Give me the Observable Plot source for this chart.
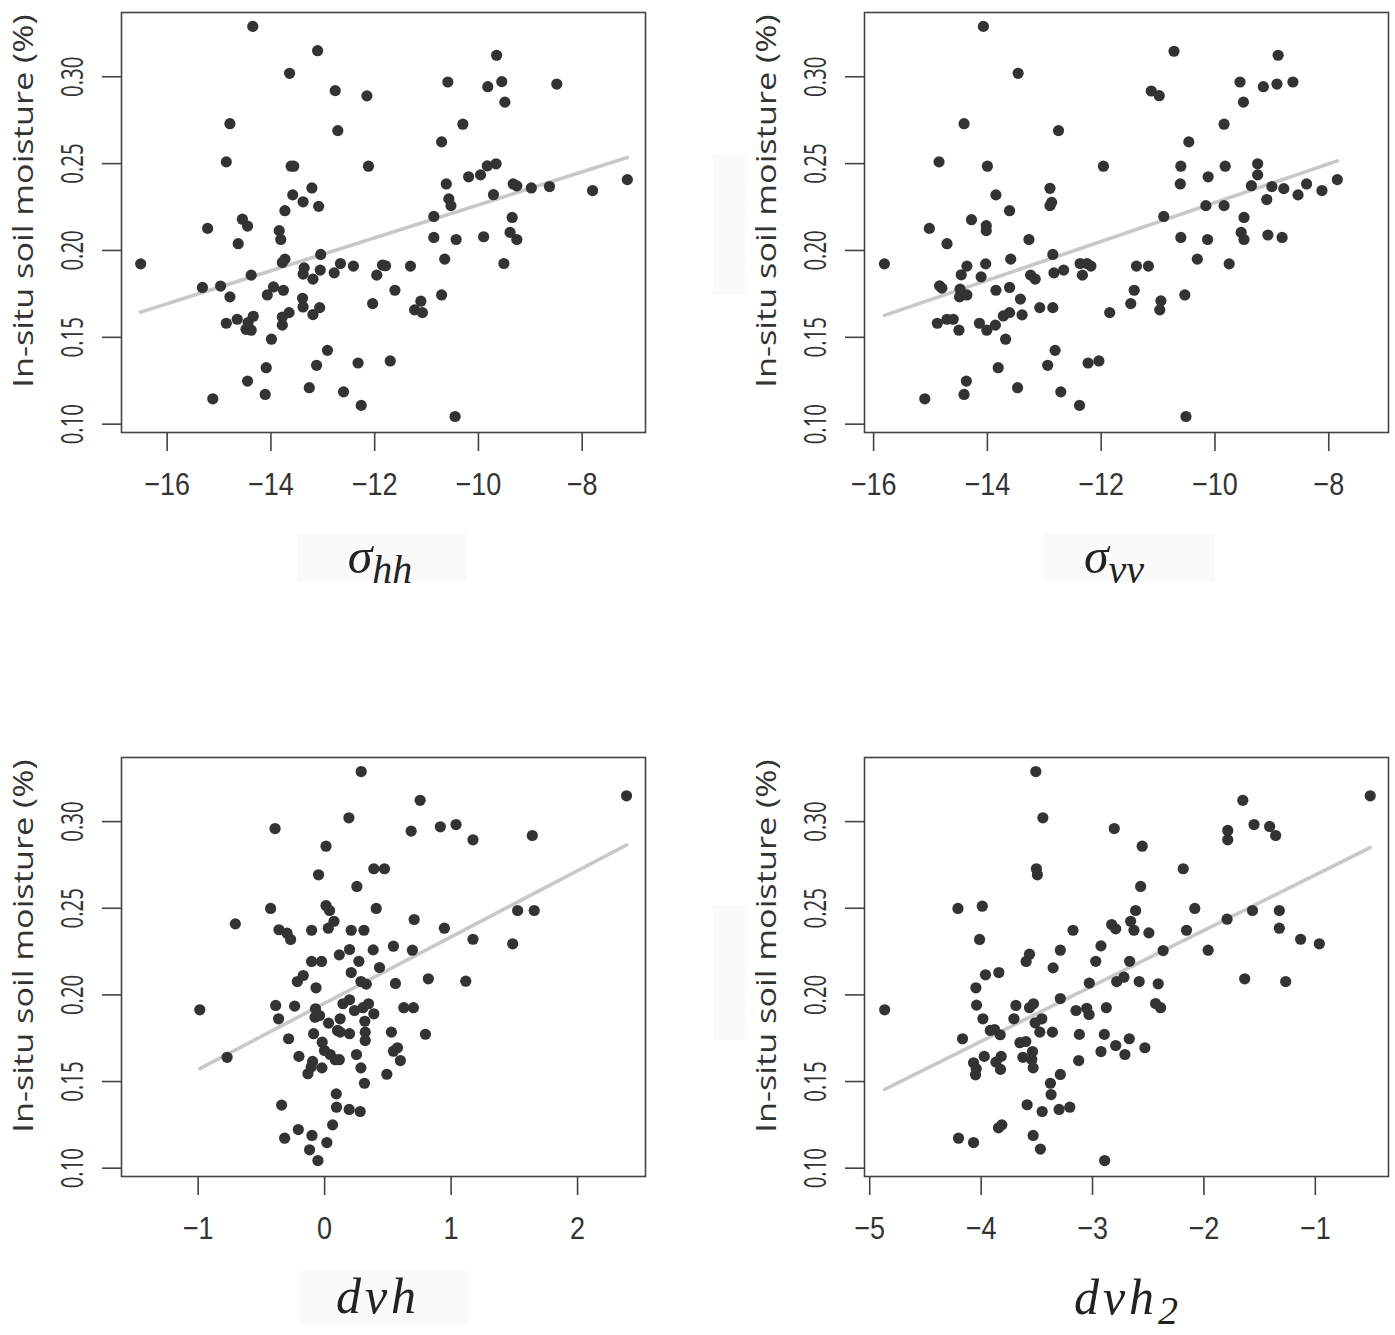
<!DOCTYPE html>
<html>
<head>
<meta charset="utf-8">
<script src="https://cdn.jsdelivr.net/npm/d3@7"></script>
<script src="https://cdn.jsdelivr.net/npm/@observablehq/plot@0.6"></script>
<style>
  body { margin: 0; background: #fff; }
  #wrap { position: relative; width: 1395px; height: 1335px; overflow: hidden; background: #fff; }
  .panel { position: absolute; }
  .ylab { position: absolute; font-family: "Open Sans", sans-serif; font-size: 27px; color: #333;
          white-space: nowrap; transform: translate(-50%, -50%) rotate(-90deg) scaleX(1.27); }
  .xlab { position: absolute; font-family: "Liberation Serif", serif; font-style: italic; font-size: 50px;
          line-height: 1.3; color: #222; white-space: nowrap; transform: translate(-50%, -50%); }
  .xlab sub { font-size: 0.8em; vertical-align: -0.26em; line-height: 0; }
  .xlab.wide { letter-spacing: 0.08em; }
  .tint { position: absolute; background: #fafafa; }
</style>
</head>
<body>
<div id="wrap"></div>
<script>
// ---------- data ----------
const yTicks = [0.10, 0.15, 0.20, 0.25, 0.30];
const hhTicks = [-16, -14, -12, -10, -8];
const vvTicks = [-16, -14, -12, -10, -8];
const dvhTicks = [-1, 0, 1, 2];
const dvh2Ticks = [-5, -4, -3, -2, -1];
const yLabel = "In-situ soil moisture (%)";

// [x, soil moisture]
const sigmaHH = [
  [-14.35,0.329],[-13.10,0.315],[-13.64,0.302],[-12.76,0.292],[-12.15,0.289],[-14.79,0.273],[-12.71,0.269],
  [-14.86,0.251],[-13.61,0.2485],[-13.56,0.2485],[-12.12,0.2485],[-13.21,0.236],[-13.58,0.232],[-13.38,0.228],
  [-13.08,0.2254],[-13.73,0.2229],[-14.55,0.218],[-14.45,0.214],[-15.22,0.2127],[-13.84,0.2114],[-13.81,0.2063],
  [-14.63,0.2039],[-16.51,0.1923],[-13.73,0.195],[-13.78,0.1931],[-13.04,0.1977],[-13.36,0.190],[-13.38,0.1864],
  [-13.19,0.1835],[-13.05,0.1887],[-12.78,0.1871],[-12.66,0.1925],[-12.41,0.191],[-11.85,0.1916],[-11.79,0.1912],
  [-11.96,0.1858],[-14.38,0.1858],[-15.32,0.1787],[-14.97,0.1795],[-14.79,0.1733],[-13.95,0.179],[-14.07,0.1744],
  [-13.76,0.1771],[-13.39,0.1725],[-13.38,0.1675],[-13.06,0.1671],[-13.19,0.1631],[-13.65,0.1642],[-13.78,0.1617],
  [-13.78,0.157],[-12.04,0.1694],[-14.86,0.1581],[-14.65,0.1604],[-14.34,0.1621],[-14.48,0.1546],[-14.38,0.1541],
  [-14.44,0.1585],[-13.99,0.1489],[-12.91,0.1425],[-13.12,0.1339],[-12.32,0.1352],[-14.09,0.1325],[-14.45,0.1248],
  [-13.26,0.121],[-12.60,0.1186],[-15.12,0.1146],[-14.11,0.1171],[-12.26,0.1108],
  [-9.65,0.3124],[-10.59,0.297],[-9.82,0.2943],[-9.55,0.2972],[-8.49,0.2958],[-9.49,0.2854],[-10.30,0.2727],
  [-10.71,0.2625],[-10.19,0.2424],[-9.96,0.2435],[-9.83,0.2487],[-9.66,0.2499],[-10.62,0.2383],[-10.57,0.2297],
  [-10.53,0.2258],[-9.71,0.2321],[-9.33,0.2383],[-9.26,0.2372],[-8.98,0.236],[-8.63,0.2368],[-7.80,0.2345],
  [-7.13,0.2408],[-10.86,0.2196],[-9.35,0.219],[-10.86,0.2075],[-10.43,0.2063],[-9.90,0.2079],[-9.39,0.2104],
  [-9.26,0.2063],[-10.65,0.195],[-9.51,0.1925],[-11.31,0.191],[-11.61,0.1771],[-10.71,0.1744],[-11.11,0.1708],
  [-11.23,0.1658],[-11.08,0.1642],[-11.70,0.1364],[-10.45,0.1044]
];

const sigmaVV = [
  [-14.07,0.329],[-13.46,0.302],[-14.41,0.273],[-12.75,0.269],[-14.85,0.251],[-14.00,0.2485],[-11.96,0.2485],
  [-13.85,0.232],[-12.90,0.2358],[-12.87,0.2277],[-12.90,0.2258],[-13.61,0.2229],[-14.28,0.2177],[-15.02,0.2127],
  [-14.02,0.2143],[-14.02,0.2114],[-14.71,0.2039],[-13.27,0.2063],[-15.81,0.1923],[-13.59,0.195],[-12.85,0.1977],
  [-14.36,0.191],[-14.46,0.186],[-14.03,0.1923],[-14.11,0.1848],[-13.24,0.1858],[-13.16,0.1835],[-12.83,0.1871],
  [-12.66,0.1887],[-12.37,0.1925],[-12.25,0.1925],[-12.18,0.191],[-12.33,0.1858],[-14.84,0.1796],[-14.80,0.1783],
  [-14.48,0.1777],[-14.49,0.1733],[-14.36,0.1744],[-13.85,0.1771],[-13.61,0.1787],[-13.42,0.172],[-13.08,0.1671],
  [-12.85,0.1671],[-11.85,0.1642],[-14.88,0.1581],[-14.71,0.1604],[-14.60,0.1604],[-14.50,0.1541],[-14.14,0.1581],
  [-14.01,0.1541],[-13.86,0.157],[-13.72,0.1623],[-13.61,0.1642],[-13.39,0.1629],[-13.68,0.1489],[-12.81,0.1425],
  [-12.94,0.1339],[-13.81,0.1325],[-12.23,0.1352],[-12.04,0.1364],[-14.37,0.1248],[-14.41,0.1171],[-15.10,0.1146],
  [-13.47,0.121],[-12.71,0.1186],[-12.38,0.1108],
  [-10.72,0.3147],[-11.12,0.2918],[-10.98,0.2891],[-8.89,0.3124],[-9.56,0.297],[-9.15,0.2943],[-8.91,0.2958],
  [-8.63,0.297],[-9.50,0.2854],[-9.84,0.2727],[-10.46,0.2625],[-10.60,0.2485],[-9.82,0.2485],[-9.25,0.2499],
  [-9.25,0.2435],[-10.12,0.2424],[-10.61,0.2383],[-9.36,0.2373],[-9.00,0.2368],[-8.79,0.2356],[-8.39,0.2383],
  [-8.54,0.232],[-8.12,0.2345],[-7.85,0.2408],[-9.09,0.2293],[-10.16,0.2258],[-9.84,0.2258],[-10.90,0.2196],
  [-9.49,0.219],[-10.60,0.2075],[-10.13,0.2063],[-9.54,0.2104],[-9.49,0.2063],[-9.07,0.2089],[-8.82,0.2075],
  [-10.31,0.195],[-9.75,0.1923],[-11.38,0.191],[-11.17,0.191],[-11.42,0.1771],[-11.48,0.1694],[-10.95,0.171],
  [-10.97,0.1658],[-10.53,0.1744],[-10.51,0.1044]
];

const dvh = [
  [0.289,0.3289],[0.192,0.3022],[-0.392,0.296],[0.011,0.2858],[0.389,0.2728],[0.473,0.2728],[-0.048,0.2693],
  [0.255,0.2626],[-0.427,0.2499],[-0.706,0.241],[0.011,0.2516],[0.039,0.2487],[0.408,0.2499],[0.074,0.2425],
  [0.029,0.2385],[-0.361,0.2376],[-0.297,0.2356],[-0.269,0.232],[-0.103,0.2373],[0.210,0.2373],[0.311,0.2373],
  [0.544,0.2281],[0.197,0.2262],[0.116,0.2231],[0.384,0.226],[0.271,0.2194],[-0.103,0.2193],[-0.024,0.2193],
  [0.210,0.2129],[0.434,0.2158],[-0.169,0.2112],[-0.216,0.2077],[-0.068,0.2041],[0.287,0.2077],[0.329,0.2062],
  [-0.987,0.1914],[-0.387,0.1939],[-0.237,0.1935],[-0.072,0.192],[0.145,0.1949],[0.197,0.1972],[0.236,0.191],
  [0.303,0.1926],[0.347,0.1949],[0.389,0.1891],[-0.364,0.1862],[-0.076,0.1871],[-0.040,0.1881],[0.031,0.1837],
  [0.123,0.1862],[0.318,0.1848],[-0.087,0.1776],[0.102,0.1795],[0.123,0.1785],[0.197,0.1776],[0.321,0.1785],
  [0.321,0.1737],[-0.285,0.1747],[-0.019,0.1727],[-0.001,0.1679],[0.044,0.1656],[0.084,0.1626],[0.116,0.1626],
  [-0.203,0.1645],[-0.095,0.1616],[-0.106,0.1583],[-0.132,0.1545],[-0.021,0.1579],[0.252,0.1656],[0.287,0.1579],
  [0.315,0.149],[-0.771,0.164],[0.092,0.1429],[0.094,0.1352],[0.194,0.1339],[0.281,0.1327],[-0.340,0.1364],
  [0.063,0.125],[-0.208,0.1223],[-0.316,0.1173],[-0.100,0.1189],[0.018,0.1148],[-0.119,0.1106],[-0.053,0.1044],
  [0.755,0.3123],[0.684,0.2945],[0.915,0.297],[1.039,0.2983],[1.173,0.2895],[1.642,0.292],[2.387,0.3149],
  [1.526,0.2487],[1.657,0.2487],[0.708,0.2435],[0.947,0.2385],[1.173,0.2321],[1.487,0.2295],[0.694,0.2258],
  [0.560,0.2066],[0.820,0.2093],[1.116,0.2079],[0.626,0.1926],[0.702,0.1926],[0.528,0.1785],[0.797,0.1773],
  [0.576,0.1695],[0.544,0.1675],[0.599,0.1621],[0.492,0.1542]
];

const dvh2 = [
  [-3.509,0.3289],[-3.446,0.3022],[-2.805,0.296],[-3.504,0.2728],[-3.495,0.2693],[-4.208,0.2499],[-3.990,0.2512],
  [-4.014,0.232],[-3.175,0.2373],[-2.828,0.2406],[-2.792,0.2381],[-3.566,0.2235],[-3.596,0.2193],[-3.289,0.2258],
  [-2.924,0.2283],[-3.354,0.2156],[-2.971,0.2194],[-3.961,0.2116],[-3.841,0.2129],[-4.047,0.2041],[-3.029,0.2068],
  [-2.783,0.2077],[-4.866,0.1914],[-4.041,0.1941],[-3.688,0.1939],[-3.566,0.1926],[-3.530,0.1949],[-3.706,0.1862],
  [-3.289,0.1979],[-3.148,0.191],[-3.052,0.1923],[-3.031,0.1887],[-2.876,0.1926],[-3.984,0.1862],[-3.515,0.1839],
  [-3.455,0.1862],[-3.918,0.1795],[-3.880,0.18],[-3.829,0.177],[-3.473,0.1785],[-3.360,0.1785],[-3.118,0.1772],
  [-2.894,0.1772],[-4.167,0.1747],[-3.652,0.1724],[-3.599,0.1731],[-3.539,0.1673],[-3.625,0.164],[-3.545,0.1627],
  [-3.533,0.1579],[-2.792,0.1708],[-2.924,0.1673],[-3.124,0.1621],[-3.972,0.1645],[-4.068,0.1608],[-4.044,0.1574],
  [-4.050,0.1539],[-3.867,0.1612],[-3.820,0.1645],[-3.826,0.157],[-3.289,0.1541],[-3.378,0.149],[-3.372,0.1425],
  [-3.587,0.1366],[-3.452,0.1327],[-3.300,0.1339],[-3.204,0.1352],[-3.844,0.1233],[-3.814,0.125],[-4.203,0.1173],
  [-4.068,0.1148],[-3.533,0.1189],[-3.468,0.111],[-2.891,0.1044],
  [-2.554,0.2858],[-2.186,0.2728],[-2.568,0.2626],[-1.651,0.3123],[-1.786,0.2949],[-1.786,0.2895],[-1.550,0.2983],
  [-1.410,0.2972],[-1.356,0.292],[-0.507,0.3149],[-2.613,0.2487],[-2.082,0.2499],[-1.564,0.2487],[-1.323,0.2487],
  [-2.658,0.2425],[-2.628,0.2373],[-2.494,0.2358],[-2.156,0.2373],[-1.792,0.2437],[-1.323,0.2385],[-1.132,0.2321],
  [-0.964,0.2295],[-2.366,0.2256],[-2.667,0.2194],[-1.962,0.2258],[-2.718,0.2102],[-2.581,0.2077],[-2.410,0.2064],
  [-1.634,0.2093],[-1.266,0.2077],[-2.434,0.195],[-2.389,0.1926],[-2.670,0.1747],[-2.709,0.1656],[-2.530,0.1695]
];

// ---------- drawing ----------
const INK = "#333";
const minusFmt = d => (d < 0 ? "\u2212" : "") + Math.abs(d);
const yFmt = d3.format(".2f");
const yDomain = [0.0952, 0.337];

const panels = [
  {pts: sigmaHH, xDomain: [-16.88, -6.78], ticks: hhTicks, left: 0, top: 0, h: 745, mb: 313,
   xlab: '<i>σ</i><sub><i>hh</i></sub>', wide: false, xlx: 380, xly: 556, ylx: 22, yly: 201},
  {pts: sigmaVV, xDomain: [-16.16, -6.95], ticks: vvTicks, left: 743, top: 0, h: 745, mb: 313,
   xlab: '<i>σ</i><sub><i>vv</i></sub>', wide: false, xlx: 1114, xly: 556, ylx: 765, yly: 201},
  {pts: dvh, xDomain: [-1.606, 2.537], ticks: dvhTicks, left: 0, top: 745, h: 590, mb: 159,
   xlab: '<i>dvh</i>', wide: true, xlx: 378, xly: 1296, ylx: 22, yly: 946},
  {pts: dvh2, xDomain: [-5.047, -0.343], ticks: dvh2Ticks, left: 743, top: 745, h: 590, mb: 159,
   xlab: '<i>dvh</i><sub>2</sub>', wide: true, xlx: 1128, xly: 1297, ylx: 765, yly: 946}
];

// stretch axis tick text around its own anchor (the reference text is drawn taller)
function stretchText(svg, selector, sx, sy) {
  svg.querySelectorAll(selector).forEach(t => {
    const x = +(t.getAttribute("x") || 0), y = +(t.getAttribute("y") || 0);
    let tr = t.getAttribute("transform") || "";
    if (x || y) {
      t.removeAttribute("x"); t.removeAttribute("y");
      tr += ` translate(${x},${y})`;
    }
    t.setAttribute("transform", `${tr} scale(${sx},${sy})`);
  });
}

const wrap = document.getElementById("wrap");

// faint background patches seen in the reference around some labels
[[297,533,170,49],[1043,533,172,49],[298,1270,172,55],[713,155,32,140],[713,905,32,135]].forEach(([l,t,w,h]) => {
  const d = document.createElement("div");
  d.className = "tint";
  Object.assign(d.style, {left: l + "px", top: t + "px", width: w + "px", height: h + "px"});
  wrap.appendChild(d);
});

for (const p of panels) {
  const data = p.pts.map(([x, y]) => ({x, y}));
  const svg = Plot.plot({
    width: 697,
    height: p.h,
    marginLeft: 121, marginRight: 52, marginTop: 12, marginBottom: p.mb,
    x: {domain: p.xDomain},
    y: {domain: yDomain},
    style: {background: "transparent", color: INK, overflow: "visible"},
    marks: [
      Plot.axisX(p.ticks, {tickSize: 19, tickPadding: 21, fontSize: 27, fontFamily: "Liberation Sans",
                           stroke: "#444", strokeWidth: 1.6, tickFormat: minusFmt, label: null}),
      Plot.axisY(yTicks, {tickSize: 19, tickRotate: -90, tickPadding: 20, fontSize: 24, fontFamily: "Open Sans",
                          stroke: "#444", strokeWidth: 1.6, tickFormat: yFmt, label: null}),
      Plot.linearRegressionY(data, {x: "x", y: "y", stroke: "#c8c8c8", strokeWidth: 3.6, ci: 0}),
      Plot.dot(data, {x: "x", y: "y", r: 5.6, fill: "#333", stroke: null}),
      Plot.frame({stroke: "#444", strokeWidth: 1.6})
    ]
  });
  stretchText(svg, 'g[aria-label="x-axis tick label"] text', 1, 1.18);
  stretchText(svg, 'g[aria-label="y-axis tick label"] text', 0.85, 1.3);
  svg.classList.add("panel");
  svg.style.left = p.left + "px";
  svg.style.top = p.top + "px";
  wrap.appendChild(svg);

  const yl = document.createElement("div");
  yl.className = "ylab";
  yl.textContent = yLabel;
  yl.style.left = p.ylx + "px";
  yl.style.top = p.yly + "px";
  wrap.appendChild(yl);

  const xl = document.createElement("div");
  xl.className = "xlab" + (p.wide ? " wide" : "");
  xl.innerHTML = p.xlab;
  xl.style.left = p.xlx + "px";
  xl.style.top = p.xly + "px";
  wrap.appendChild(xl);
}
</script>
</body>
</html>
